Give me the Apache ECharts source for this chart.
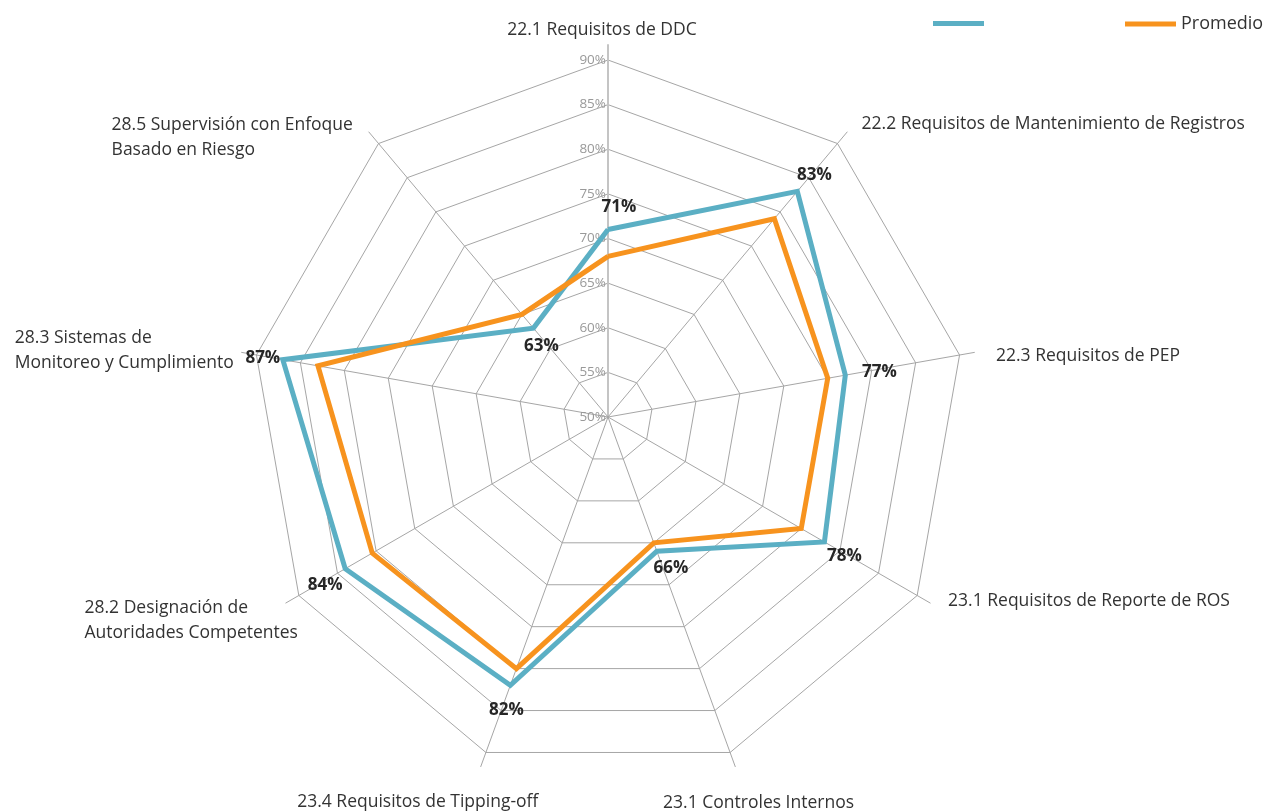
<!DOCTYPE html>
<html>
<head>
<meta charset="utf-8">
<title>Radar</title>
<script src="https://cdn.jsdelivr.net/npm/echarts@6/dist/echarts.min.js"></script>
<style>
html, body { margin: 0; padding: 0; background: #fff; }
#radar { width: 1271px; height: 812px; }
</style>
</head>
<body>
<div id="radar"></div>
<script>
// axes, clockwise from the top
var categories = [
	'22.1 Requisitos de DDC',
	'22.2 Requisitos de Mantenimiento de Registros',
	'22.3 Requisitos de PEP',
	'23.1 Requisitos de Reporte de ROS',
	'23.1 Controles Internos',
	'23.4 Requisitos de Tipping-off',
	'28.2 Designación de\nAutoridades Competentes',
	'28.3 Sistemas de\nMonitoreo y Cumplimiento',
	'28.5 Supervisión con Enfoque\nBasado en Riesgo'
];
var paisValues = [71, 83, 77, 78, 66, 82, 84, 87, 63];
var promedioValues = [68, 79, 75, 75, 65, 80, 80.5, 83, 65];
var seriesNames = [' ', 'Promedio'];
var axisMin = 50;
var axisMax = 90;
var axisSplit = 8;

var BLUE = '#5BAFC4';
var ORANGE = '#F7931E';
var FONT = 'Open Sans';
var NAME_SIZE = 17.5;

// where each axis name sits (clockwise order)
var nameLayout = [
	{gap: 2, align: 'center', verticalAlign: 'bottom', padding: [0, 12, 0, 0]},
	{gap: 10, align: 'left', verticalAlign: 'middle', padding: [0, 0, 0, 8]},
	{gap: 22, align: 'left', verticalAlign: 'middle', padding: [14, 0, 0, 0]},
	{gap: 8, align: 'left', verticalAlign: 'middle', padding: [0, 0, 12, 11]},
	{gap: 39, align: 'center', verticalAlign: 'middle', padding: [0, 0, 0, 20]},
	{gap: 38, align: 'center', verticalAlign: 'middle', padding: [0, 100, 0, 0]},
	{gap: -14, align: 'right', verticalAlign: 'top', padding: 0},
	{gap: 8, align: 'right', verticalAlign: 'middle', padding: 0},
	{gap: 25, align: 'right', verticalAlign: 'top', padding: 0}
];
// value label shift from the vertex [dx, dy]
var labelShift = [[11, -22], [17, -16], [34, -3], [20, 14], [14, 17], [-4, 25], [-20, 16], [-20, -2], [8, 18]];

// echarts lays radar axes counter-clockwise, so flip the order
var ccw = [0, 8, 7, 6, 5, 4, 3, 2, 1];
function pick(arr) {
	return ccw.map(function (i) { return arr[i]; });
}

var richLabels = {};
pick(labelShift).forEach(function (s, k) {
	richLabels['s' + k] = {
		fontFamily: FONT,
		fontSize: 17,
		fontWeight: 'bold',
		color: '#262626',
		padding: [Math.max(0, 2 * s[1]), Math.max(0, -2 * s[0]), Math.max(0, -2 * s[1]), Math.max(0, 2 * s[0])]
	};
});

var gridIndicators = pick(categories).map(function (c, k) {
	var ind = {name: c, min: axisMin, max: axisMax};
	if (k === 0) {
		ind.axisLabel = {show: true};
	}
	return ind;
});

var layoutCcw = pick(nameLayout);
var nameIndicators = pick(categories).map(function (c, k) {
	var l = layoutCcw[k];
	var ind = {
		name: c,
		min: axisMin,
		max: axisMax,
		nameGap: l.gap,
		nameTextStyle: {align: l.align, verticalAlign: l.verticalAlign, padding: l.padding}
	};
	if (k === 0) {
		ind.axisLine = {lineStyle: {color: '#c4c4c4', width: 2}};
	}
	return ind;
});

var myChart = echarts.init(document.getElementById('radar'));
var option = {
	animation: false,
	backgroundColor: '#fff',
	legend: [{
		data: [seriesNames[0]],
		left: 928,
		top: 11,
		icon: 'rect',
		itemWidth: 51,
		itemHeight: 5,
		textStyle: {fontFamily: FONT, fontSize: 15, color: '#333'}
	}, {
		data: [seriesNames[1]],
		left: 1120,
		top: 10,
		icon: 'rect',
		itemWidth: 51,
		itemHeight: 5,
		textStyle: {fontFamily: FONT, fontSize: 18, color: '#333'}
	}],
	radar: [{
		center: [608, 417],
		radius: 357,
		startAngle: 90,
		shape: 'polygon',
		splitNumber: axisSplit,
		indicator: gridIndicators,
		axisName: {show: false},
		axisLine: {show: false},
		axisTick: {show: false},
		splitArea: {show: false},
		splitLine: {lineStyle: {color: '#a6a6a6', width: 1}},
		axisLabel: {
			show: false,
			margin: 2,
			fontFamily: FONT,
			fontSize: 13.5,
			color: '#999',
			formatter: '{value}%'
		}
	}, {
		center: [608, 417],
		radius: 372,
		startAngle: 90,
		shape: 'polygon',
		splitNumber: axisSplit,
		indicator: nameIndicators,
		axisLine: {lineStyle: {color: '#a6a6a6', width: 1}},
		axisTick: {show: false},
		axisLabel: {show: false},
		splitArea: {show: false},
		splitLine: {show: false},
		axisName: {
			fontFamily: FONT,
			fontSize: NAME_SIZE,
			color: '#333',
			formatter: function (name) {
				return name.split('\n').map(function (s) { return '{n|' + s + '}'; }).join('\n');
			},
			rich: {
				n: {fontFamily: FONT, fontSize: NAME_SIZE, color: '#333', lineHeight: 25, align: 'left'}
			}
		}
	}],
	series: [{
		type: 'radar',
		radarIndex: 0,
		symbol: 'circle',
		symbolSize: 1,
		data: [{
			name: seriesNames[0],
			value: pick(paisValues),
			itemStyle: {color: BLUE},
			lineStyle: {color: BLUE, width: 5, join: 'miter'},
			label: {
				show: true,
				position: 'inside',
				formatter: function (p) {
					var i = p.data.value.indexOf(p.value);
					return '{s' + i + '|' + p.value + '%}';
				},
				rich: richLabels
			}
		}, {
			name: seriesNames[1],
			value: pick(promedioValues),
			itemStyle: {color: ORANGE},
			lineStyle: {color: ORANGE, width: 5, join: 'miter'},
			label: {show: false}
		}]
	}]
};
myChart.setOption(option);
</script>
</body>
</html>
